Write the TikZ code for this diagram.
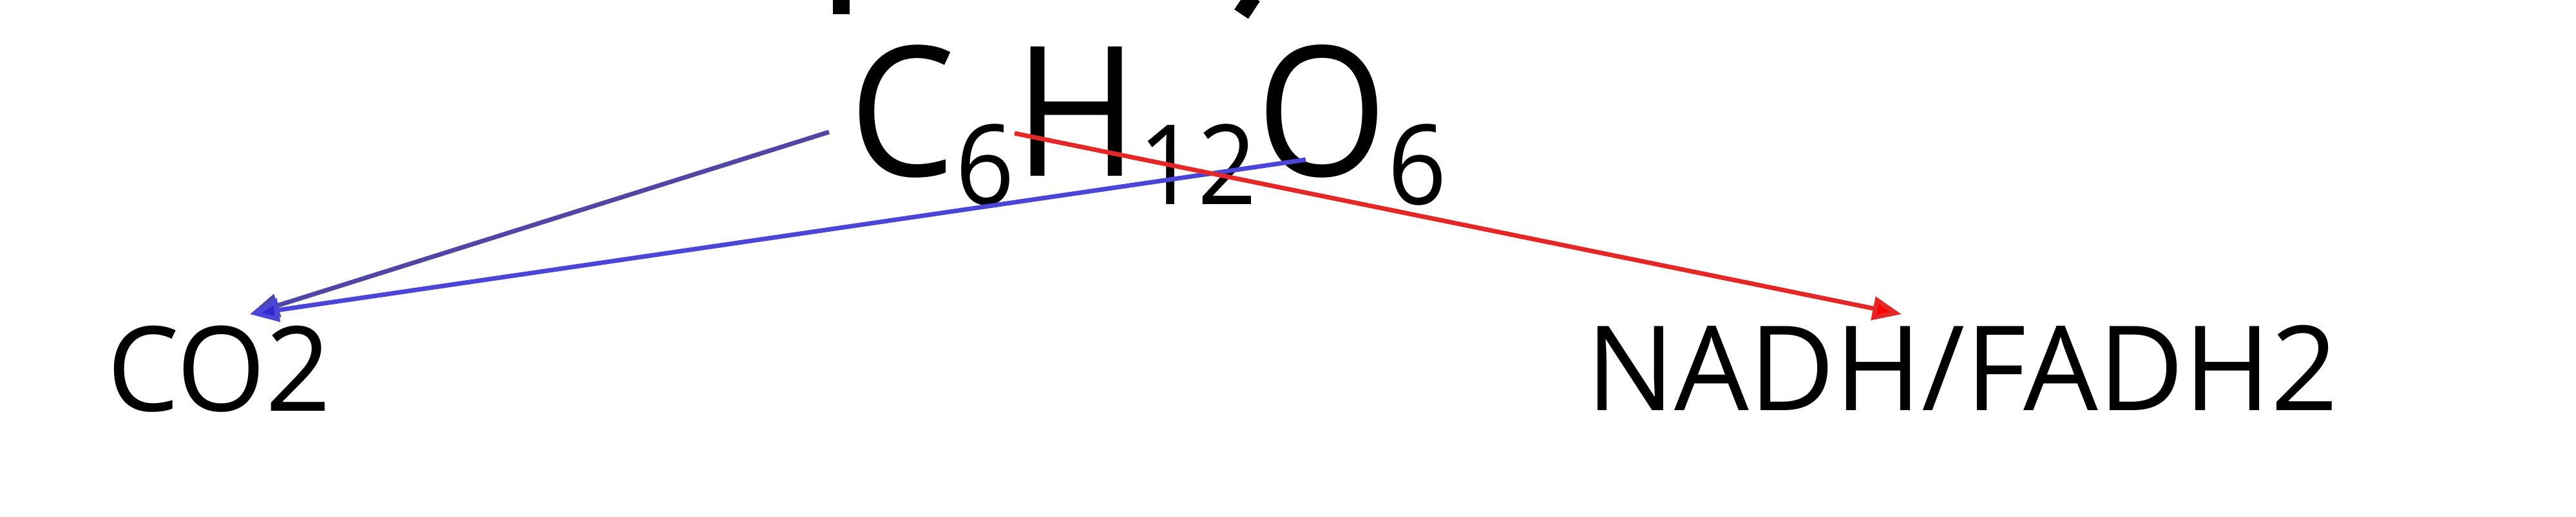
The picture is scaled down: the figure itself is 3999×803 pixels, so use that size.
\documentclass[tikz,border=0pt]{standalone}
\usepackage{fontspec}
\setmainfont{Open Sans}
\usetikzlibrary{arrows.meta}
\definecolor{bluedark}{RGB}{80,70,165}
\definecolor{bluelight}{RGB}{75,70,215}
\definecolor{bluetip}{RGB}{50,40,210}
\definecolor{redline}{RGB}{228,40,40}
\begin{document}
\begin{tikzpicture}[x=0.01cm,y=-0.01cm,
  lbl/.style={inner sep=0pt,outer sep=0pt,anchor=base west,font=\fontsize{52}{60}\selectfont},
  formula/.style={inner sep=0pt,outer sep=0pt,anchor=base west,font=\fontsize{80}{90}\selectfont},
  conn/.style={line width=0.07cm},
  frag/.style={line width=0.26cm,black}]
\useasboundingbox (0,0) rectangle (3999,803);
\fill[white] (0,0) rectangle (3999,803);
% fragments of the line above
\draw[frag] (1306,-5) -- (1306,22);
\draw[frag] (1945,-5) -- (1927,22);
% nodes
\newcommand{\subdig}[1]{\raisebox{-0.44cm}{\fontsize{49}{55}\selectfont #1}}
\node[formula] (glu) at (1318,273) {\scalebox{0.93}[1]{C\subdig{6}H\subdig{12}O\subdig{6}}};
\node[lbl] (co2) at (166,638) {\scalebox{0.97}[1]{CO2}};
\node[lbl] (nadh) at (2462,637) {NADH/FADH2};
% connector endpoints
\coordinate (b1) at (1287,205);
\coordinate (b2) at (2027,248);
\coordinate (r1) at (1575,207);
\coordinate (co2tip) at (388,488);
\coordinate (nadhtip) at (2952,488);
\draw[conn,bluedark,-{Triangle[length=0.45cm,width=0.36cm,fill=bluetip]}] (b1) -- (co2tip);
\draw[conn,bluelight,-{Triangle[length=0.45cm,width=0.36cm,fill=bluetip]}] (b2) -- (co2tip);
\draw[conn,redline,-{Triangle[length=0.45cm,width=0.36cm,fill=red]}] (r1) -- (nadhtip);
\end{tikzpicture}
\end{document}
